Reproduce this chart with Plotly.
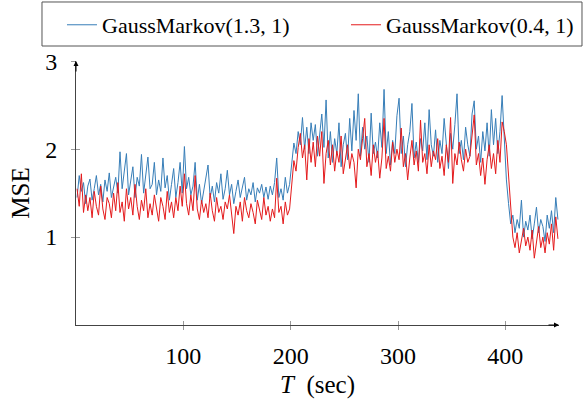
import plotly.graph_objects as go

# time stamps (sec)
t = list(range(1, 450, 2))

gm_13 = [
    1.45, 1.70, 1.52, 1.62, 1.38, 1.58, 1.66, 1.42, 1.55, 1.70,
    1.48, 1.60, 1.40, 1.65, 1.52, 1.73, 1.45, 1.58, 1.68, 1.50,
    1.97, 1.55, 1.75, 1.95, 1.48, 1.62, 1.80, 1.45, 1.68, 1.58,
    1.94, 1.50, 1.72, 1.91, 1.55, 1.60, 1.85, 1.48, 1.65, 1.52,
    1.90, 1.56, 1.70, 1.42, 1.60, 1.78, 1.45, 1.62, 1.85, 1.50,
    2.03, 1.55, 1.68, 1.48, 1.58, 1.85, 1.42, 1.60, 1.38, 1.52,
    1.65, 1.82, 1.45, 1.58, 1.40, 1.62, 1.50, 1.72, 1.43, 1.55,
    1.76, 1.48, 1.60, 1.38, 1.52, 1.65, 1.45, 1.58, 1.68, 1.42,
    1.55, 1.48, 1.62, 1.40, 1.56, 1.50, 1.60, 1.45, 1.57, 1.43,
    1.58, 1.48, 1.62, 1.90, 1.45, 1.55, 1.42, 1.68, 1.50, 1.60,
    1.80, 2.07, 1.95, 2.20, 2.05, 2.36, 2.00, 2.25, 1.95, 2.30,
    2.10, 2.28, 1.92, 2.15, 2.40, 2.02, 2.56, 1.90, 2.20, 1.85,
    2.12, 1.95, 2.30, 1.80, 2.05, 2.18, 1.88, 2.35, 1.98, 2.44,
    2.10, 2.63, 1.92, 2.25, 2.00, 2.15, 1.85, 2.41, 1.95, 2.08,
    1.90, 2.30, 2.02, 2.68, 1.95, 2.20, 1.82, 2.10, 1.95, 2.38,
    2.58, 1.95, 2.15, 1.80, 2.05, 2.20, 2.52, 1.90, 2.08, 1.85,
    2.12, 1.98, 2.30, 1.88, 2.45, 2.05, 1.92, 2.22, 1.85, 2.10,
    1.95, 2.35, 2.02, 1.78, 2.18, 2.00, 2.28, 2.63, 1.95, 2.10,
    1.88, 2.25, 2.05, 1.92, 2.40, 2.55, 2.00, 2.15, 1.85, 2.20,
    1.98, 2.30, 1.92, 2.45, 2.05, 2.35, 1.95, 2.20, 2.61, 2.10,
    1.65, 1.38, 1.15, 1.25, 1.05, 1.20, 1.10, 1.42, 1.00, 1.18,
    1.08, 1.25, 0.98, 1.15, 1.34, 1.05, 1.20, 1.12, 0.95, 1.25,
    1.10, 1.30, 1.05, 1.45, 1.20,
]

gm_04 = [
    1.55, 1.35, 1.72, 1.28, 1.48, 1.30, 1.45, 1.22, 1.52, 1.35,
    1.25, 1.58, 1.32, 1.20, 1.45, 1.38, 1.22, 1.50, 1.30, 1.62,
    1.28, 1.40, 1.18, 1.55, 1.32, 1.45, 1.25, 1.60, 1.35, 1.20,
    1.42, 1.30, 1.55, 1.22, 1.38, 1.25, 1.48, 1.32, 1.18, 1.45,
    1.35, 1.20, 1.52, 1.28, 1.40, 1.22, 1.45, 1.30, 1.58, 1.35,
    1.72, 1.38, 1.25, 1.48, 1.30, 1.70, 1.32, 1.20, 1.42, 1.28,
    1.38, 1.22, 1.50, 1.30, 1.18, 1.45, 1.28, 1.35, 1.20, 1.40,
    1.32, 1.48, 1.22, 1.04, 1.35, 1.25, 1.40, 1.18, 1.45, 1.30,
    1.22, 1.38, 1.28, 1.15, 1.42, 1.30, 1.20, 1.45, 1.25, 1.35,
    1.18, 1.32, 1.22, 1.67, 1.28, 1.35, 1.15, 1.40, 1.25, 1.32,
    1.60, 1.87, 1.75, 2.02, 2.18, 1.90, 2.05, 1.65, 2.12, 1.85,
    2.08, 1.80, 2.15, 1.92, 2.20, 1.61, 1.95, 2.10, 1.82, 2.05,
    1.75, 1.98, 1.85, 2.15, 1.72, 1.90, 2.05, 1.78, 1.95, 1.85,
    1.56, 2.00, 1.88, 2.12, 2.35, 1.80, 1.95, 1.70, 2.05, 1.85,
    1.98, 1.67, 1.90, 2.35, 1.78, 1.92, 1.75, 2.08, 1.85, 2.00,
    1.88, 2.24, 1.80, 1.95, 1.65, 1.90, 2.10, 1.82, 1.98, 1.75,
    2.33, 1.85, 1.95, 1.72, 2.05, 1.80, 1.98, 1.88, 2.12, 1.78,
    1.92, 1.70, 2.05, 1.85, 2.36, 1.61, 1.95, 1.82, 2.08, 1.88,
    1.75, 2.00, 1.85, 1.92, 2.15, 2.39, 1.82, 1.95, 1.70, 1.90,
    1.60, 1.88, 2.05, 1.78, 1.95, 1.72, 2.10, 1.85, 2.31, 2.20,
    2.05, 1.70, 1.40, 1.00, 0.88, 1.05, 0.82, 0.95, 1.10, 0.90,
    1.00, 0.85, 1.08, 0.76, 0.95, 1.12, 0.88, 1.00, 0.82, 1.05,
    0.92, 1.15, 0.85, 1.23, 0.98,
]

x_ticks = [100, 200, 300, 400]
y_ticks = [1, 2, 3]

FONT = "Liberation Serif"

fig = go.Figure()
fig.add_trace(go.Scatter(x=t, y=gm_13, mode="lines", name="GaussMarkov(1.3, 1)",
                         line=dict(color="#377eb8", width=1), legend="legend"))
fig.add_trace(go.Scatter(x=t, y=gm_04, mode="lines", name="GaussMarkov(0.4, 1)",
                         line=dict(color="#e41a1c", width=1), legend="legend2"))

axis_common = dict(showgrid=False, zeroline=False, showline=True,
                   linecolor="#444", linewidth=1, tickcolor="#999",
                   tickwidth=1, ticklen=4)

legend_common = dict(orientation="h", xanchor="left", y=1.216, yanchor="top",
                     borderwidth=0, bgcolor="rgba(0,0,0,0)",
                     font=dict(size=22, family=FONT))

fig.update_layout(
    width=584, height=402,
    margin=dict(l=76, r=25, t=61, b=77, autoexpand=False),
    paper_bgcolor="white", plot_bgcolor="white",
    font=dict(family=FONT, color="black", size=21),
    xaxis=dict(range=[0, 450], tickvals=x_ticks, ticks="outside",
               title=dict(text="<i>T</i>\u2002(sec)", standoff=7, font=dict(size=25)),
               tickfont=dict(size=24), ticklabelstandoff=5, **axis_common),
    yaxis=dict(range=[0, 3.003], tickvals=y_ticks, ticks="outside",
               title=dict(text="MSE", standoff=8, font=dict(size=25)),
               tickfont=dict(size=24), ticklabelstandoff=9, **axis_common),
    xaxis2=dict(overlaying="x", matches="x", side="bottom", tickvals=x_ticks,
                ticks="inside", showticklabels=False, showgrid=False,
                zeroline=False, tickcolor="#999", ticklen=4),
    yaxis2=dict(overlaying="y", matches="y", side="left", tickvals=y_ticks,
                ticks="inside", showticklabels=False, showgrid=False,
                zeroline=False, tickcolor="#999", ticklen=4),
    legend=dict(x=-0.029, **legend_common),
    legend2=dict(x=0.559, **legend_common),
    showlegend=True,
)
# legend frame
fig.add_shape(type="rect", xref="paper", yref="paper",
              x0=-0.0704, x1=1.0476, y0=1.0568, y1=1.2235,
              line=dict(color="#555", width=1), fillcolor="rgba(0,0,0,0)")

# invisible trace to activate the duplicate tick axes
fig.add_trace(go.Scatter(x=[None], y=[None], xaxis="x2", yaxis="y2",
                         showlegend=False, hoverinfo="skip"))

# axis arrow heads
fig.add_annotation(x=450, y=0, xref="x", yref="y", ax=-12, ay=0, text="",
                   showarrow=True, arrowhead=2, arrowsize=1, arrowwidth=1,
                   arrowcolor="black")
fig.add_annotation(x=0, y=3.003, xref="x", yref="y", ax=0, ay=12, text="",
                   showarrow=True, arrowhead=2, arrowsize=1, arrowwidth=1,
                   arrowcolor="black")

fig.write_html("out.html")
